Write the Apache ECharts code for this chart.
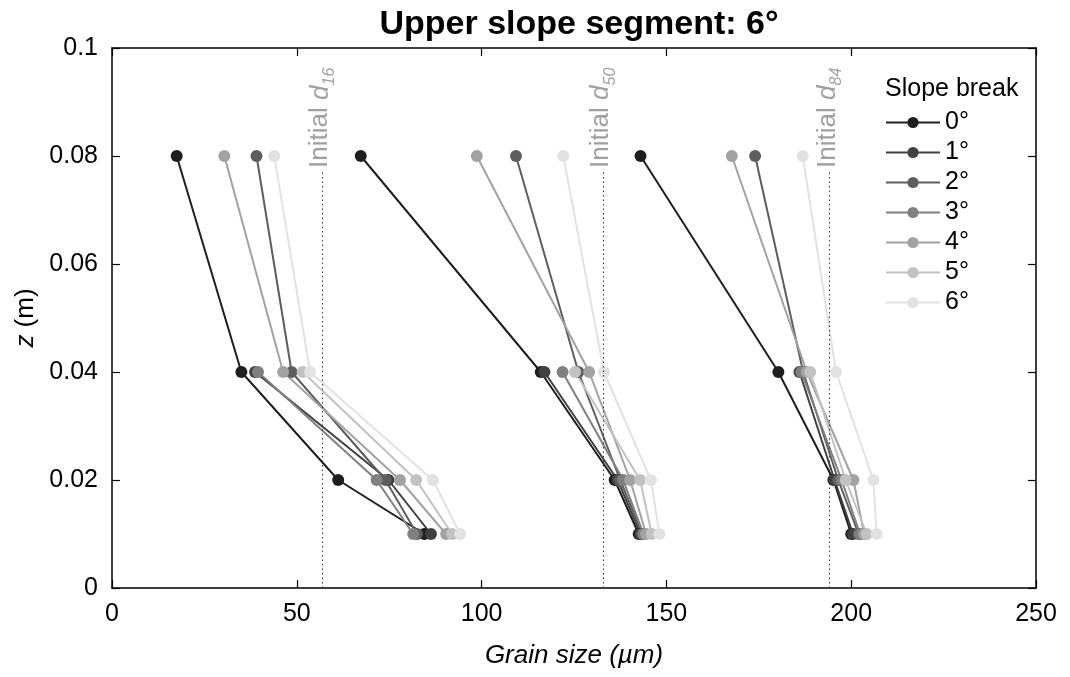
<!DOCTYPE html>
<html>
<head>
<meta charset="utf-8">
<script src="https://cdn.jsdelivr.net/npm/echarts@6/dist/echarts.min.js"></script>
<style>
  html, body { margin: 0; padding: 0; background: #fff; }
  #main { width: 1070px; height: 677px; }
</style>
</head>
<body>
<div id="main"></div>
<script>
// depths (m) at which grain size was sampled, top to bottom
var zLevels = [0.08, 0.04, 0.02, 0.01];
var slopeBreaks = ['0°', '1°', '2°', '3°', '4°', '5°', '6°'];
var greys = ['#1e1e1e', '#404040', '#5e5e5e', '#808080', '#a2a2a2', '#c2c2c2', '#e2e2e2'];

// grain size (µm) per slope break, one value per z level (null = no sample)
var d16 = [
    [17.5, 35.0, 61.2, 84.5],
    [null, 38.7, 74.8, 86.3],
    [39.1, 48.6, 74.0, 82.5],
    [null, 39.5, 71.6, 81.5],
    [30.4, 46.3, 77.9, 90.4],
    [null, 51.6, 82.3, 92.0],
    [43.9, 53.6, 86.8, 94.2]
];
var d50 = [
    [67.3, 116.0, 136.0, 142.5],
    [null, 117.0, 136.8, 143.0],
    [109.3, 126.2, 137.5, 143.5],
    [null, 121.9, 138.3, 143.8],
    [98.7, 129.1, 140.2, 144.5],
    [null, 125.3, 142.9, 146.0],
    [122.1, 133.1, 145.8, 148.1]
];
var d84 = [
    [143.0, 180.3, 195.2, 200.0],
    [null, 186.0, 195.5, 200.5],
    [174.0, 187.0, 196.5, 202.0],
    [null, 186.5, 197.4, 202.4],
    [167.7, 188.0, 200.6, 203.5],
    [null, 188.9, 198.5, 204.2],
    [186.9, 195.9, 206.0, 206.9]
];
// initial grain size percentiles (µm)
var initial = [
    { label: '16', x: 56.9 },
    { label: '50', x: 132.9 },
    { label: '84', x: 194.1 }
];

var FONT = 'Liberation Sans, Arial, Helvetica, sans-serif';
var myChart = echarts.init(document.getElementById('main'));

function toPoints(vals) {
    var out = [];
    for (var k = 0; k < zLevels.length; k++) {
        if (vals[k] != null) out.push([vals[k], zLevels[k]]);
    }
    return out;
}

var series = [];
[d16, d50, d84].forEach(function (group) {
    group.forEach(function (vals, i) {
        series.push({
            name: slopeBreaks[i],
            type: 'line',
            data: toPoints(vals),
            symbol: 'circle',
            symbolSize: 12,
            color: greys[i],
            lineStyle: { width: 2, color: greys[i] },
            itemStyle: { color: greys[i] },
            z: 3,
            animation: false
        });
    });
});

// dotted reference lines for the initial distribution, label sits above each line
var labelGrey = '#a0a0a0';
var markLines = [];
initial.forEach(function (p) {
    markLines.push([
        { coord: [p.x, 0], lineStyle: { type: [1.5, 3], color: '#333', width: 1 }, label: { show: false } },
        { coord: [p.x, 0.0775] }
    ]);
    markLines.push([
        {
            coord: [p.x, 0.0778],
            lineStyle: { color: 'rgba(255,255,255,0)', width: 0 },
            label: {
                show: true,
                position: 'insideStart',
                distance: 0,
                formatter: '{a|Initial }{d|d}{s|' + p.label + '}',
                rich: {
                    a: { fontSize: 26, color: labelGrey, fontFamily: FONT, lineHeight: 24, verticalAlign: 'top' },
                    d: { fontSize: 26, color: labelGrey, fontFamily: FONT, fontStyle: 'italic', lineHeight: 24, verticalAlign: 'top' },
                    s: { fontSize: 16, color: labelGrey, fontFamily: FONT, fontStyle: 'italic', lineHeight: 30, verticalAlign: 'bottom' }
                }
            }
        },
        { coord: [p.x, 0.0995] }
    ]);
});
series.push({
    type: 'line',
    data: [],
    silent: true,
    markLine: { symbol: 'none', animation: false, data: markLines }
});

var axisLine = { show: true, onZero: false, lineStyle: { color: '#000', width: 1.5 } };
var tick = { show: true, inside: true, length: 8, lineStyle: { color: '#000', width: 1.2 } };

var option = {
    animation: false,
    textStyle: { fontFamily: FONT },
    title: [{
        text: 'Upper slope segment: 6°',
        left: 574,
        top: 3,
        textAlign: 'center',
        textStyle: { fontSize: 34, fontWeight: 'bold', color: '#000', fontFamily: FONT }
    }, {
        text: 'Slope break',
        left: 880,
        top: 72,
        textStyle: { fontSize: 25, fontWeight: 'normal', color: '#000', fontFamily: FONT }
    }],
    grid: { left: 112, right: 34, top: 48, bottom: 89 },
    legend: {
        data: slopeBreaks,
        orient: 'vertical',
        left: 880,
        top: 105,
        itemWidth: 54,
        itemHeight: 14,
        itemGap: 5,
        textStyle: { fontSize: 25, lineHeight: 24, color: '#000', fontFamily: FONT }
    },
    xAxis: [{
        type: 'value',
        min: 0, max: 250, interval: 50,
        position: 'bottom',
        name: 'Grain size (µm)',
        nameLocation: 'middle',
        nameGap: 55,
        nameTextStyle: { fontSize: 26, fontStyle: 'italic', color: '#000', fontFamily: FONT },
        axisLine: axisLine,
        axisTick: tick,
        axisLabel: { fontSize: 25, color: '#000', margin: 14 },
        splitLine: { show: false }
    }, {
        type: 'value',
        min: 0, max: 250, interval: 50,
        position: 'top',
        axisLine: axisLine,
        axisTick: tick,
        axisLabel: { show: false },
        splitLine: { show: false }
    }],
    yAxis: [{
        type: 'value',
        min: 0, max: 0.1, interval: 0.02,
        position: 'left',
        name: '{i|z} (m)',
        nameLocation: 'middle',
        nameGap: 67,
        nameTextStyle: {
            fontSize: 26, color: '#000', fontFamily: FONT,
            rich: { i: { fontSize: 26, fontStyle: 'italic', fontFamily: FONT } }
        },
        axisLine: axisLine,
        axisTick: tick,
        axisLabel: {
            fontSize: 25, color: '#000', margin: 14,
            formatter: function (v) { return String(+v.toFixed(2)); }
        },
        splitLine: { show: false }
    }, {
        type: 'value',
        min: 0, max: 0.1, interval: 0.02,
        position: 'right',
        axisLine: axisLine,
        axisTick: tick,
        axisLabel: { show: false },
        splitLine: { show: false }
    }],
    series: series
};

myChart.setOption(option);
</script>
</body>
</html>
